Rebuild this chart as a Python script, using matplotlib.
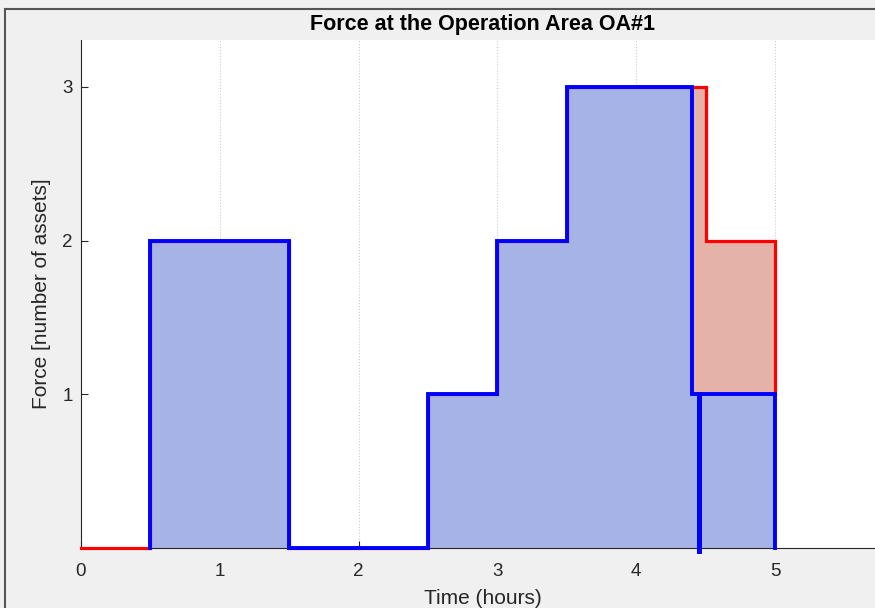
import matplotlib.pyplot as plt
from matplotlib.lines import Line2D

# step data (time in hours, force in number of assets)
t_red = [0, 0.5, 0.5, 1.5, 1.5, 2.5, 2.5, 3, 3, 3.5, 3.5, 4.5, 4.5, 5, 5]
f_red = [0, 0, 2, 2, 0, 0, 1, 1, 2, 2, 3, 3, 2, 2, 1]

t_blue = [0.5, 0.5, 1.5, 1.5, 2.5, 2.5, 3, 3, 3.5, 3.5, 4.4, 4.4, 5, 5]
f_blue = [0, 2, 2, 0, 0, 1, 1, 2, 2, 3, 3, 1, 1, 0]

t_mark = [4.45, 4.45]
f_mark = [-0.02, 1]

xticks = [0, 1, 2, 3, 4, 5]
yticks = [1, 2, 3]

plt.rcParams['font.family'] = ['Liberation Sans', 'DejaVu Sans']

bg = '#f0f0f0'
fig = plt.figure(figsize=(8.75, 6.08), dpi=100, facecolor=bg)
ax = fig.add_axes([81/875, 1 - 548/608, 1.01 - 81/875, (548 - 40)/608])

# fills
ax.fill_between(t_red, f_red, 0, color='#e4b2a6', lw=0, zorder=1)
ax.fill_between(t_blue, f_blue, 0, color='#a5b3e6', lw=0, zorder=2)

# outlines
ax.plot(t_red, f_red, color='#ff0000', lw=2.3, solid_joinstyle='miter',
        zorder=3, clip_on=False)
ax.plot(t_blue, f_blue, color='#0000ff', lw=2.8, solid_joinstyle='miter',
        zorder=4, clip_on=False)
ax.plot(t_mark, f_mark, color='#0000ff', lw=3.6, zorder=5, clip_on=False)

ax.set_xlim(0, (875 * 1.01 - 81) / 138.8)
ax.set_ylim(0, 3.305)
ax.set_xticks(xticks)
ax.set_yticks(yticks)
ax.grid(axis='x', color='#cccccc', ls=':', lw=0.8, zorder=0)

for side in ['top', 'right']:
    ax.spines[side].set_visible(False)
for side in ['left', 'bottom']:
    ax.spines[side].set_color('#262626')
    ax.spines[side].set_linewidth(0.8)
    ax.spines[side].set_zorder(2.5)
ax.tick_params(direction='in', length=5, width=0.8, colors='#262626',
               labelsize=13.5)
ax.tick_params(axis='x', pad=11)
ax.tick_params(axis='y', pad=6)

ax.set_title('Force at the Operation Area OA#1', fontsize=15.5, fontweight='bold',
             color='#000000', pad=7)
ax.set_xlabel('Time (hours)', fontsize=15, color='#262626', labelpad=6)
ax.set_ylabel('Force [number of assets]', fontsize=15, color='#262626', labelpad=8)

# window border (left and top)
fig.add_artist(Line2D([5/875, 5/875], [0, 1 - 9/608], color='#555555', lw=1.5))
fig.add_artist(Line2D([5/875, 1], [1 - 9/608, 1 - 9/608], color='#555555', lw=1.5))

fig.savefig('out.png', dpi=100, facecolor=bg)
